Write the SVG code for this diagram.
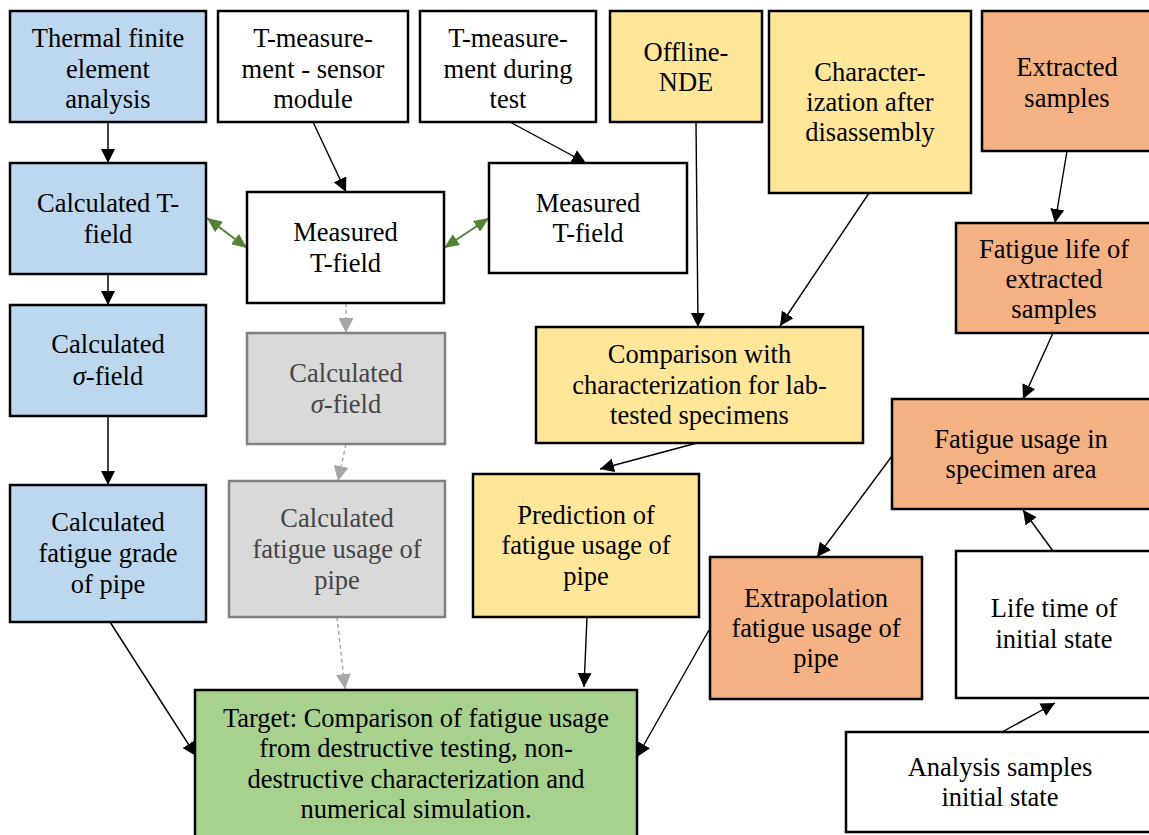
<svg xmlns="http://www.w3.org/2000/svg" width="1149" height="835" viewBox="0 0 1149 835">
<style>
  .box { stroke: #000; stroke-width: 2.5; }
  .blue { fill: #BDD7EE; }
  .white { fill: #FFFFFF; }
  .yellow { fill: #FFE699; }
  .orange { fill: #F4B183; }
  .green { fill: #A9D18E; }
  .grey { fill: #D9D9D9; stroke: #808080; stroke-width: 2.5; }
  text { font-size: 26.5px; text-anchor: middle; fill: #000; }
  .gt { fill: #454545; }
  .c { fill: none; stroke: #000; stroke-width: 1.4; }
  .cd { fill: none; stroke: #404040; stroke-width: 2; }
  .cg { fill: none; stroke: #548235; stroke-width: 2; }
  .cx { fill: none; stroke: #A6A6A6; stroke-width: 1.4; stroke-dasharray: 4 3; }
  .sig { font-style: italic; }
</style>
<defs>
  <marker id="ah" markerUnits="userSpaceOnUse" markerWidth="14" markerHeight="14" refX="14" refY="7" orient="auto">
    <path d="M0,0 L14,7 L0,14 z" fill="#000"/>
  </marker>
  <marker id="ag" markerUnits="userSpaceOnUse" markerWidth="15" markerHeight="13" refX="15" refY="6.5" orient="auto-start-reverse">
    <path d="M0,0 L15,6.5 L0,13 z" fill="#548235"/>
  </marker>
  <marker id="ax" markerUnits="userSpaceOnUse" markerWidth="15" markerHeight="15" refX="15" refY="7.5" orient="auto">
    <path d="M0,0 L15,7.5 L0,15 z" fill="#A6A6A6"/>
  </marker>
</defs>

<g id="connectors">
  <path class="cd" d="M108,122 L108,163" marker-end="url(#ah)"/>
  <path class="cd" d="M108,274 L108,305" marker-end="url(#ah)"/>
  <path class="cd" d="M108,416 L108,485" marker-end="url(#ah)"/>
  <path class="c" d="M313,122 L346,192" marker-end="url(#ah)"/>
  <path class="c" d="M510,122 L586,163" marker-end="url(#ah)"/>
  <path class="cg" d="M207,218 L247,248" marker-start="url(#ag)" marker-end="url(#ag)"/>
  <path class="cg" d="M444,248 L489,218" marker-start="url(#ag)" marker-end="url(#ag)"/>
  <path class="cx" d="M346,303 L346,333" marker-end="url(#ax)"/>
  <path class="cx" d="M346,444 L338,481" marker-end="url(#ax)"/>
  <path class="cx" d="M337,617 L345,689" marker-end="url(#ax)"/>
  <path class="c" d="M110,622 L196,756" marker-end="url(#ah)"/>
  <path class="c" d="M587,617 L584,687" marker-end="url(#ah)"/>
  <path class="c" d="M709,630 L637,757" marker-end="url(#ah)"/>
  <path class="c" d="M696,122 L698,327" marker-end="url(#ah)"/>
  <path class="c" d="M869,193 L780,326" marker-end="url(#ah)"/>
  <path class="c" d="M697,443 L600,469" marker-end="url(#ah)"/>
  <path class="c" d="M1067,151 L1055,223" marker-end="url(#ah)"/>
  <path class="c" d="M1053,333 L1023,399" marker-end="url(#ah)"/>
  <path class="c" d="M892,456 L817,557" marker-end="url(#ah)"/>
  <path class="c" d="M1053,551 L1023,510" marker-end="url(#ah)"/>
  <path class="c" d="M1002,732 L1055,703" marker-end="url(#ah)"/>
</g>

<g font-family="Liberation Serif, DejaVu Serif, Noto Serif, serif">
<g id="n-thermal">
  <rect class="box blue" x="10" y="11" width="196" height="111"/>
  <text x="108" y="47">Thermal finite</text>
  <text x="108" y="78">element</text>
  <text x="108" y="108">analysis</text>
</g>
<g id="n-tmeas-sensor">
  <rect class="box white" x="218" y="11" width="190" height="111"/>
  <text x="313" y="47">T-measure-</text>
  <text x="313" y="78">ment - sensor</text>
  <text x="313" y="108">module</text>
</g>
<g id="n-tmeas-test">
  <rect class="box white" x="420" y="11" width="176" height="111"/>
  <text x="508" y="47">T-measure-</text>
  <text x="508" y="78">ment during</text>
  <text x="508" y="108">test</text>
</g>
<g id="n-offline-nde">
  <rect class="box yellow" x="610" y="11" width="152" height="111"/>
  <text x="686" y="61">Offline-</text>
  <text x="686" y="91">NDE</text>
</g>
<g id="n-characterization">
  <rect class="box yellow" x="769" y="11" width="202" height="182"/>
  <text x="870" y="81">Character-</text>
  <text x="870" y="111">ization after</text>
  <text x="870" y="141">disassembly</text>
</g>
<g id="n-extracted">
  <rect class="box orange" x="982" y="11" width="180" height="140"/>
  <text x="1067" y="76">Extracted</text>
  <text x="1067" y="107">samples</text>
</g>
<g id="n-fatigue-life">
  <rect class="box orange" x="956" y="223" width="206" height="110"/>
  <text x="1054" y="258">Fatigue life of</text>
  <text x="1054" y="288">extracted</text>
  <text x="1054" y="318">samples</text>
</g>
<g id="n-calc-tfield">
  <rect class="box blue" x="10" y="163" width="196" height="111"/>
  <text x="108" y="212">Calculated T-</text>
  <text x="108" y="243">field</text>
</g>
<g id="n-meas-tfield-1">
  <rect class="box white" x="247" y="192" width="197" height="111"/>
  <text x="345.5" y="241">Measured</text>
  <text x="345.5" y="272">T-field</text>
</g>
<g id="n-meas-tfield-2">
  <rect class="box white" x="489" y="163" width="198" height="110"/>
  <text x="588" y="212">Measured</text>
  <text x="588" y="242">T-field</text>
</g>
<g id="n-calc-sigma">
  <rect class="box blue" x="10" y="305" width="196" height="111"/>
  <text x="108" y="353">Calculated</text>
  <text x="108" y="385"><tspan class="sig">σ</tspan>-field</text>
</g>
<g id="n-calc-sigma-grey">
  <rect class="grey" x="247" y="333" width="198" height="111"/>
  <text class="gt" x="346" y="382">Calculated</text>
  <text class="gt" x="346" y="413"><tspan class="sig">σ</tspan>-field</text>
</g>
<g id="n-calc-grade">
  <rect class="box blue" x="10" y="485" width="196" height="137"/>
  <text x="108" y="531">Calculated</text>
  <text x="108" y="562">fatigue grade</text>
  <text x="108" y="593">of pipe</text>
</g>
<g id="n-calc-usage-grey">
  <rect class="grey" x="229" y="481" width="216" height="136"/>
  <text class="gt" x="337" y="527">Calculated</text>
  <text class="gt" x="337" y="558">fatigue usage of</text>
  <text class="gt" x="337" y="589">pipe</text>
</g>
<g id="n-comparison">
  <rect class="box yellow" x="536" y="327" width="327" height="116"/>
  <text x="699.5" y="363">Comparison with</text>
  <text x="699.5" y="394">characterization for lab-</text>
  <text x="699.5" y="424">tested specimens</text>
</g>
<g id="n-prediction">
  <rect class="box yellow" x="473" y="474" width="226" height="143"/>
  <text x="586" y="524">Prediction of</text>
  <text x="586" y="554">fatigue usage of</text>
  <text x="586" y="585">pipe</text>
</g>
<g id="n-fatigue-usage-area">
  <rect class="box orange" x="892" y="399" width="270" height="110"/>
  <text x="1021" y="448">Fatigue usage in</text>
  <text x="1021" y="478">specimen area</text>
</g>
<g id="n-extrapolation">
  <rect class="box orange" x="710" y="557" width="212" height="142"/>
  <text x="816" y="607">Extrapolation</text>
  <text x="816" y="637">fatigue usage of</text>
  <text x="816" y="667">pipe</text>
</g>
<g id="n-lifetime">
  <rect class="box white" x="956" y="551" width="206" height="147"/>
  <text x="1054" y="617">Life time of</text>
  <text x="1054" y="648">initial state</text>
</g>
<g id="n-analysis">
  <rect class="box white" x="846" y="732" width="316" height="100"/>
  <text x="1000" y="776">Analysis samples</text>
  <text x="1000" y="806">initial state</text>
</g>
<g id="n-target">
  <rect class="box green" x="195" y="690" width="442" height="160"/>
  <text x="416" y="727">Target: Comparison of fatigue usage</text>
  <text x="416" y="757">from destructive testing, non-</text>
  <text x="416" y="788">destructive characterization and</text>
  <text x="416" y="818">numerical simulation.</text>
</g>
</g>
</svg>
